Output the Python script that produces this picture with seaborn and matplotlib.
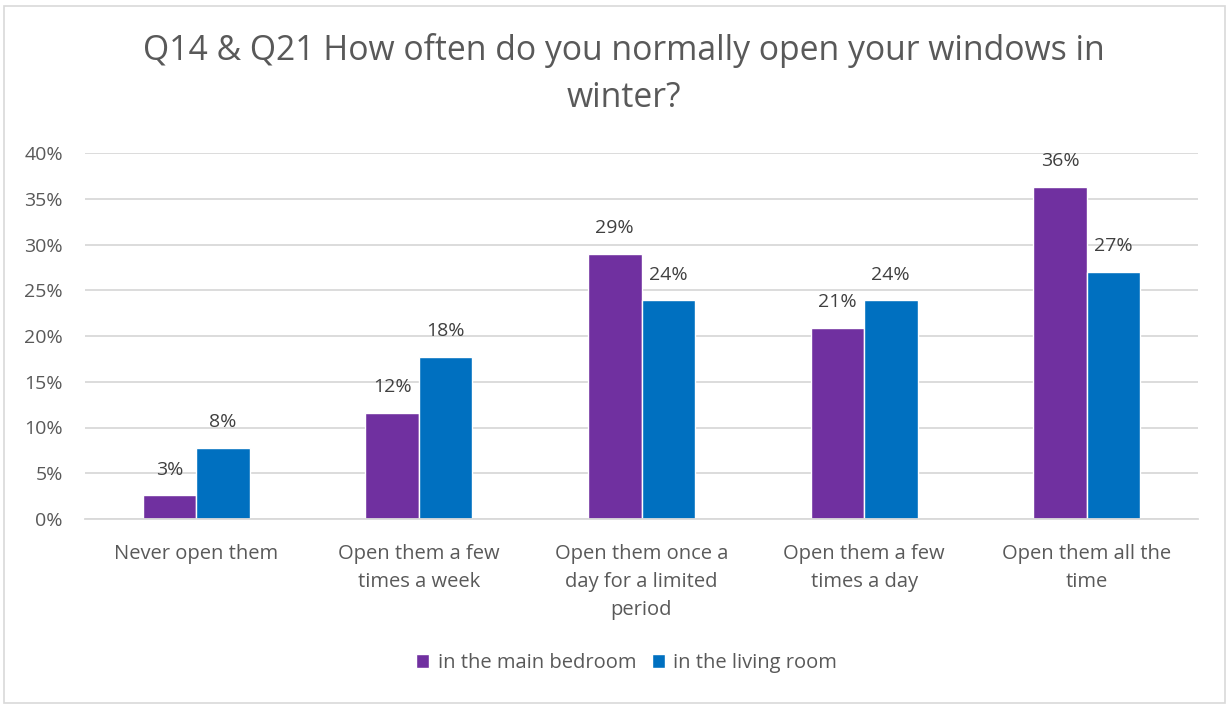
import matplotlib
matplotlib.use("Agg")
import matplotlib.pyplot as plt
from matplotlib.patches import Rectangle
import seaborn as sns
import pandas as pd

categories = [
    "Never open them",
    "Open them a few\ntimes a week",
    "Open them once a\nday for a limited\nperiod",
    "Open them a few\ntimes a day",
    "Open them all the\ntime",
]
series_names = ["in the main bedroom", "in the living room"]
bedroom = [2.6, 11.6, 29.0, 20.9, 36.3]
living = [7.8, 17.7, 23.9, 23.9, 27.0]
y_ticks = [0, 5, 10, 15, 20, 25, 30, 35, 40]
title = "Q14 & Q21 How often do you normally open your windows in\nwinter?"

colors = ["#7030A0", "#0070C0"]
text_grey = "#595959"

sns.set_theme(style="white")
plt.rcParams["font.family"] = ["Open Sans", "DejaVu Sans"]

df = pd.DataFrame({
    "category": categories * 2,
    "series": [series_names[0]] * len(categories) + [series_names[1]] * len(categories),
    "value": bedroom + living,
})

fig = plt.figure(figsize=(12.29, 7.04), dpi=100)
ax = fig.add_axes([85 / 1229, 1 - 519 / 704, (1198 - 85) / 1229, (519 - 153) / 704])

sns.barplot(data=df, x="category", y="value", hue="series", palette=colors,
            width=0.48, ax=ax, saturation=1, legend=True)

ax.set_xlim(-0.5, len(categories) - 0.5)
ax.set_ylim(0, 40)
ax.set_yticks(y_ticks)
ax.set_yticklabels([f"{t}%" for t in y_ticks], fontsize=14, color=text_grey)
ax.set_xticks(range(len(categories)))
ax.set_xticklabels(categories, fontsize=14.5, color=text_grey, linespacing=1.55)
ax.tick_params(axis="x", length=0, pad=18)
ax.tick_params(axis="y", length=0, pad=16)
ax.set_xlabel("")
ax.set_ylabel("")
ax.grid(axis="y", color="#d9d9d9", linewidth=1.3)
ax.set_axisbelow(True)
for side in ["top", "right", "left"]:
    ax.spines[side].set_visible(False)
ax.spines["bottom"].set_color("#d9d9d9")
ax.spines["bottom"].set_linewidth(1.3)

for container in ax.containers:
    ax.bar_label(container, labels=[f"{v:.0f}%" for v in container.datavalues],
                 padding=12, fontsize=14, color="#404040")

leg = ax.legend(loc="center", bbox_to_anchor=(0.51, (704 - 663) / 704), bbox_transform=fig.transFigure,
                ncol=2, frameon=False, fontsize=14.5, handlelength=0.65, handleheight=0.65,
                handletextpad=0.4, columnspacing=0.8)
for t in leg.get_texts():
    t.set_color(text_grey)

fig.text(0.508, 1 - 74 / 704, title, ha="center", va="center", fontsize=24.3,
         color=text_grey, linespacing=1.5)

fig.patches.append(Rectangle((4 / 1229, 0.002), 1221 / 1229, 1 - 6 / 704 - 0.002,
                             transform=fig.transFigure, fill=False,
                             edgecolor="#d9d9d9", linewidth=1.2))

fig.savefig("out.png", dpi=100, facecolor="white")
